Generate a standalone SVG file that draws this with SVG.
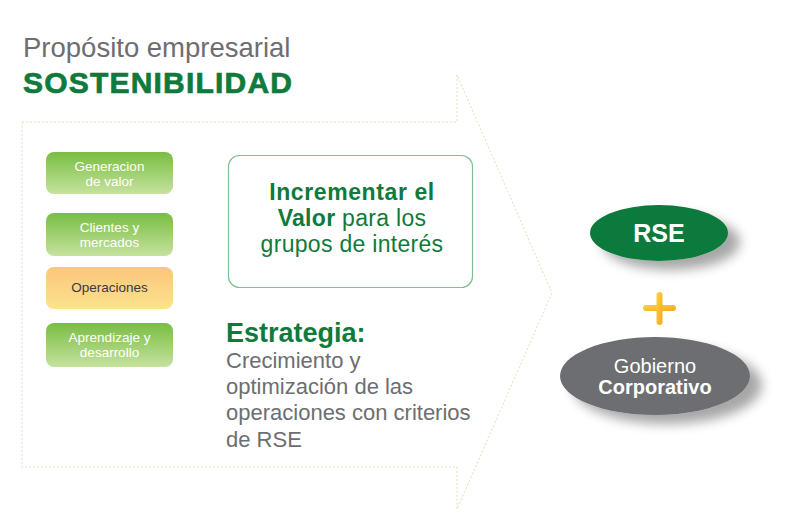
<svg xmlns="http://www.w3.org/2000/svg" width="800" height="513" viewBox="0 0 800 513">
<defs>
<linearGradient id="gGreen" x1="0" y1="0" x2="0" y2="1"><stop offset="0" stop-color="#79bd43"/><stop offset="1" stop-color="#c6e29f"/></linearGradient>
<linearGradient id="gOrange" x1="0" y1="0" x2="0" y2="1"><stop offset="0" stop-color="#fbc67c"/><stop offset="1" stop-color="#fbe38c"/></linearGradient>
<linearGradient id="gPlus" x1="0" y1="0" x2="1" y2="1"><stop offset="0" stop-color="#fbd43c"/><stop offset="1" stop-color="#f5a623"/></linearGradient>
<filter id="shadow" x="-20%" y="-30%" width="160%" height="190%">
<feGaussianBlur in="SourceAlpha" stdDeviation="6"/>
<feOffset dx="12" dy="9" result="b"/>
<feComponentTransfer><feFuncA type="linear" slope="0.35"/></feComponentTransfer>
<feMerge><feMergeNode/><feMergeNode in="SourceGraphic"/></feMerge>
</filter>
<style>
.box text{font-family:"Liberation Sans",Arial,sans-serif;font-size:13.5px;fill:#fff;text-anchor:middle}
.box .dark{fill:#3a3a3a}
.gray{font-family:"Liberation Sans",Arial,sans-serif;fill:#6d6e71}
.green{font-family:"Liberation Sans",Arial,sans-serif;fill:#107a3c}
.heavy{font-weight:bold;stroke:#107a3c;stroke-width:0.7}
</style>
</defs>
<rect width="800" height="513" fill="#fff"/>
<g id="title">
<text class="gray" x="23" y="57" font-size="27.5">Propósito empresarial</text>
<text class="green heavy" x="23" y="93" font-size="30" letter-spacing="1.2">SOSTENIBILIDAD</text>
</g>
<g id="connectors">
<path d="M22,122 H457 V75 L552,293 L457,509 V467 H22 Z" fill="none" stroke="#d3e8b3" stroke-width="1" stroke-dasharray="2,2"/>
</g>
<g id="box1" class="box">
<rect x="46" y="152" width="127" height="42" rx="8" fill="url(#gGreen)"/>
<text x="109.5" y="171">Generacion</text>
<text x="109.5" y="186.3">de valor</text>
</g>
<g id="box2" class="box">
<rect x="46" y="213" width="127" height="43" rx="8" fill="url(#gGreen)"/>
<text x="109.5" y="232">Clientes y</text>
<text x="109.5" y="247.3">mercados</text>
</g>
<g id="box3" class="box">
<rect x="46" y="267" width="127" height="42" rx="8" fill="url(#gOrange)"/>
<text class="dark" x="109.5" y="292">Operaciones</text>
</g>
<g id="box4" class="box">
<rect x="46" y="323" width="127" height="44" rx="8" fill="url(#gGreen)"/>
<text x="109.5" y="342">Aprendizaje y</text>
<text x="109.5" y="357.3">desarrollo</text>
</g>
<g id="valor">
<rect x="228.5" y="155.5" width="244" height="132" rx="11" fill="#fff" stroke="#7fc08f" stroke-width="1.2"/>
<text class="green" x="352" y="200" font-size="23" text-anchor="middle" font-weight="bold" letter-spacing="0.6">Incrementar el</text>
<text class="green" x="352" y="226" font-size="23" text-anchor="middle" letter-spacing="0.3"><tspan font-weight="bold">Valor</tspan> para los</text>
<text class="green" x="352" y="252" font-size="23" text-anchor="middle" letter-spacing="0.3">grupos de interés</text>
</g>
<g id="estrategia">
<text class="green" x="226" y="342" font-size="27" font-weight="bold">Estrategia:</text>
<text class="gray" x="226" y="368" font-size="22">Crecimiento y</text>
<text class="gray" x="226" y="394" font-size="22">optimización de las</text>
<text class="gray" x="226" y="420" font-size="22">operaciones con criterios</text>
<text class="gray" x="226" y="447" font-size="22">de RSE</text>
</g>
<g id="rse">
<ellipse cx="659" cy="233" rx="69" ry="28" fill="#117a3d" filter="url(#shadow)"/>
<text x="659" y="242" font-family="Liberation Sans,Arial,sans-serif" font-size="25" font-weight="bold" fill="#fff" text-anchor="middle">RSE</text>
</g>
<g id="plus">
<rect x="643" y="305" width="33" height="6" rx="3" fill="url(#gPlus)"/>
<rect x="656.5" y="292" width="6" height="33" rx="3" fill="url(#gPlus)"/>
</g>
<g id="gobierno">
<ellipse cx="655" cy="376" rx="95" ry="39" fill="#6d6e71" filter="url(#shadow)"/>
<text x="655" y="373" font-family="Liberation Sans,Arial,sans-serif" font-size="20" fill="#fff" text-anchor="middle">Gobierno</text>
<text x="655" y="394" font-family="Liberation Sans,Arial,sans-serif" font-size="20" font-weight="bold" fill="#fff" text-anchor="middle">Corporativo</text>
</g>
</svg>
